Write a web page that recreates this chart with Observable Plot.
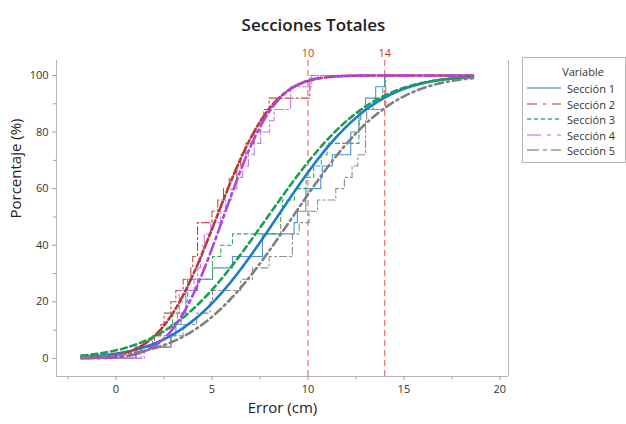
<!DOCTYPE html>
<html>
<head>
<meta charset="utf-8">
<script src="https://cdn.jsdelivr.net/npm/d3@7"></script>
<script src="https://cdn.jsdelivr.net/npm/@observablehq/plot@0.6"></script>
<style>
  body { margin: 0; background: #fff; font-family: "Open Sans", "Noto Sans", sans-serif; }
  #chart { position: relative; width: 626px; height: 424px; }
  #legend { position: absolute; left: 522px; top: 57px; width: 104px; height: 106px;
            border: 1px solid #b5b5b5; box-sizing: border-box; font-size: 11px; color: #333; }
  #legend .head { position: absolute; left: 0; width: 100%; top: 6px; text-align: center; padding-left: 18px; box-sizing: border-box; }
  #legend .row { position: absolute; left: 4px; height: 14px; display: flex; align-items: center; }
  #legend .row svg { margin-right: 6px; }
</style>
</head>
<body>
<div id="chart"></div>
<script>
// Series names
const sections = ["Sección 1", "Sección 2", "Sección 3", "Sección 4", "Sección 5"];

// Observed errors (cm) per section, 25 measurements each
const errSeccion1 = [1.04, 2.86, 3.12, 3.4, 3.64, 3.64, 4.25, 5.03, 6.07, 7.63, 7.63, 9.28, 9.45, 9.89, 9.89, 10.67, 10.75, 11.27, 12.23, 12.23, 12.66, 12.66, 13.0, 13.53, 14.0];
const errSeccion2 = [1.3, 2.0, 2.34, 2.5, 2.86, 3.12, 3.5, 3.9, 4.0, 4.25, 4.25, 4.25, 5.0, 5.3, 5.6, 5.9, 6.3, 6.5, 6.76, 7.2, 7.54, 7.7, 7.98, 10.1, 10.1];
const errSeccion3 = [1.0, 1.9, 2.95, 2.95, 3.3, 3.73, 3.73, 5.03, 5.03, 5.46, 6.07, 8.58, 8.58, 8.67, 9.3, 9.9, 10.3, 10.7, 11.0, 12.66, 12.66, 12.75, 13.4, 13.9, 14.0];
const errSeccion4 = [1.47, 2.86, 2.86, 3.2, 3.3, 3.3, 4.07, 4.25, 4.4, 4.5, 4.6, 4.94, 5.46, 5.7, 6.0, 6.3, 6.6, 6.9, 7.2, 7.54, 8.0, 8.24, 9.1, 9.1, 10.2];
const errSeccion5 = [1.04, 2.86, 3.5, 4.2, 4.9, 5.03, 6.5, 7.11, 7.98, 9.19, 9.19, 9.54, 10.06, 10.5, 11.45, 11.9, 12.3, 12.6, 13.0, 13.0, 13.0, 13.06, 14.05, 14.05, 14.05];

// Fitted normal distribution parameters per section
const fitMean = [8.4, 5.25, 7.9, 5.6, 9.2];
const fitSd = [3.95, 2.3, 4.15, 2.1, 4.0];

// Range over which the fitted and empirical curves are drawn
const xRange = [-1.8, 18.6];

// Reference limits
const refLines = [10, 14];

// Axis ticks
const xTicks = [0, 5, 10, 15, 20];
const xMinorTicks = [-2.5, 2.5, 7.5, 12.5, 17.5];
const yTicks = [0, 20, 40, 60, 80, 100];
const yMinorTicks = [10, 30, 50, 70, 90];

const xDomain = [-3.1, 20.45];
const yDomain = [-6.4, 105.3];

// Line styles per series
const styles = [
  {curve: "#1f7bd0", step: "#4f93d8", dashCurve: null, dashStep: null, legend: "#6fa0d8", dashLegend: null},
  {curve: "#b83a3a", step: "#bf4a4a", dashCurve: "10,3,4,3", dashStep: "8,3,2,3", legend: "#cc7777", dashLegend: "10,6,3,6"},
  {curve: "#1e9e50", step: "#3aa864", dashCurve: "6,4", dashStep: "4,3", legend: "#3cb371", dashLegend: "4,3"},
  {curve: "#ad46e4", step: "#c278ef", dashCurve: "12,4,3,4", dashStep: "9,3,2,3", legend: "#e88ae8", dashLegend: "14,6,4,6"},
  {curve: "#7f7f7f", step: "#8e8e8e", dashCurve: "8,4,2,4", dashStep: "7,3,2,3", legend: "#9a9a9a", dashLegend: "12,4,4,4"}
];

const errors = [errSeccion1, errSeccion2, errSeccion3, errSeccion4, errSeccion5];

// Empirical CDF as step points (percent)
function ecdf(values) {
  const v = values.slice().sort((a, b) => a - b);
  const n = v.length;
  const pts = [{x: xRange[0], y: 0}];
  v.forEach((d, i) => {
    if (i === n - 1 || v[i + 1] !== d) pts.push({x: d, y: (i + 1) / n * 100});
  });
  pts.push({x: xRange[1], y: 100});
  return pts;
}

// Normal CDF (Abramowitz–Stegun erf approximation)
function erf(z) {
  const t = 1 / (1 + 0.3275911 * Math.abs(z));
  const y = 1 - (((((1.061405429 * t - 1.453152027) * t) + 1.421413741) * t - 0.284496736) * t + 0.254829592) * t * Math.exp(-z * z);
  return z >= 0 ? y : -y;
}
function normCdf(x, m, s) { return 0.5 * (1 + erf((x - m) / (s * Math.SQRT2))); }

const grid = d3.range(xRange[0], xRange[1] + 1e-9, 0.05);

const marks = [];

// Frame: left, right, bottom
marks.push(Plot.ruleX([xDomain[0], xDomain[1]], {stroke: "#b8b8b8", strokeWidth: 1}));
marks.push(Plot.ruleY([yDomain[0]], {stroke: "#b8b8b8", strokeWidth: 1}));

// Reference lines
marks.push(Plot.ruleX(refLines, {stroke: "#f07878", strokeWidth: 1.3, strokeDasharray: "6,4"}));

// Empirical CDFs
errors.forEach((vals, i) => {
  marks.push(Plot.line(ecdf(vals), {
    x: "x", y: "y", curve: "step-after",
    stroke: styles[i].step, strokeWidth: 1.1,
    strokeDasharray: styles[i].dashStep || undefined
  }));
});

// Fitted normal CDFs
sections.forEach((s, i) => {
  const pts = grid.map(x => ({x, y: 100 * normCdf(x, fitMean[i], fitSd[i])}));
  marks.push(Plot.line(pts, {
    x: "x", y: "y", stroke: styles[i].curve, strokeWidth: 2.6,
    strokeDasharray: styles[i].dashCurve || undefined
  }));
});

// Axes
marks.push(Plot.axisX({ticks: xTicks, tickSize: 4, tickPadding: 5, fontSize: 11, stroke: "#a0a0a0", fill: "#333", label: null}));
marks.push(Plot.axisX({ticks: xMinorTicks, tickSize: 3, tickFormat: () => "", stroke: "#a0a0a0", label: null}));
marks.push(Plot.axisY({ticks: yTicks, tickSize: 4, tickPadding: 4, fontSize: 11, stroke: "#a0a0a0", fill: "#333", label: null}));
marks.push(Plot.axisY({ticks: yMinorTicks, tickSize: 3, tickFormat: () => "", stroke: "#a0a0a0", label: null}));

// Reference labels
marks.push(Plot.text(refLines, {x: d => d, frameAnchor: "top", dy: -11, text: d => String(d), fill: "#c0392b", fontSize: 11}));

// Titles
marks.push(Plot.text(["Secciones Totales"], {frameAnchor: "top", dy: -42, dx: 31, fontSize: 17, fontWeight: 600, fill: "#222"}));
marks.push(Plot.text(["Error (cm)"], {frameAnchor: "bottom", dy: 36, fontSize: 15, fill: "#222"}));
marks.push(Plot.text(["Porcentaje (%)"], {frameAnchor: "left", dx: -40, rotate: -90, fontSize: 15, fill: "#222"}));

const chart = Plot.plot({
  width: 626,
  height: 424,
  marginLeft: 56,
  marginRight: 118,
  marginTop: 60,
  marginBottom: 48,
  style: {fontFamily: "'Open Sans', 'Noto Sans', sans-serif", background: "#fff", color: "#333"},
  x: {domain: xDomain, axis: null},
  y: {domain: yDomain, axis: null},
  marks
});

const root = document.getElementById("chart");
root.appendChild(chart);

// Legend
const legend = document.createElement("div");
legend.id = "legend";
legend.innerHTML = `<div class="head">Variable</div>`;
const rowTops = [23, 39, 54, 70, 85];
sections.forEach((s, i) => {
  const row = document.createElement("div");
  row.className = "row";
  row.style.top = rowTops[i] + "px";
  const dash = styles[i].dashLegend ? `stroke-dasharray="${styles[i].dashLegend}"` : "";
  row.innerHTML = `<svg width="34" height="8"><line x1="0" y1="4" x2="34" y2="4" stroke="${styles[i].legend}" stroke-width="1.5" ${dash}/></svg><span>${s}</span>`;
  legend.appendChild(row);
});
root.appendChild(legend);
</script>
</body>
</html>
